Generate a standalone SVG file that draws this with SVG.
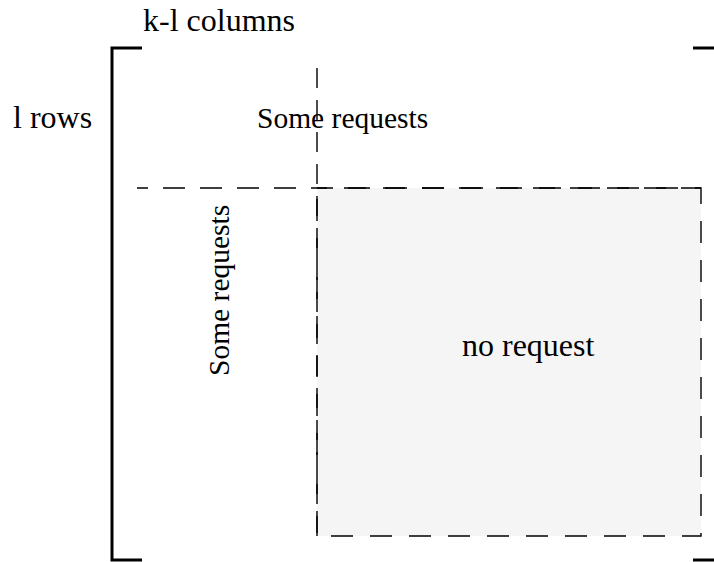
<svg xmlns="http://www.w3.org/2000/svg" width="714" height="562" viewBox="0 0 714 562">
  <style>
    .lbl { font-family: "Liberation Serif", "Times New Roman", Tinos, "DejaVu Serif", serif; font-size: 32px; fill: #000; }
    .lbl.small { font-size: 29.5px; }
    .bracket { fill: none; stroke: #000; stroke-width: 3; }
    .dash { fill: none; stroke: #000; stroke-width: 1.4; }
  </style>
  <rect width="714" height="562" fill="#fff"/>

  <!-- matrix brackets -->
  <g id="brackets">
    <path class="bracket" d="M142,48 H112 V560 H142"/>
    <path class="bracket" d="M693,48 H714"/>
    <path class="bracket" d="M693,560 H714"/>
  </g>

  <!-- empty block -->
  <g id="no-request-block">
    <rect x="317" y="188" width="384" height="348" fill="#f5f5f5" stroke="#000" stroke-width="1.4" stroke-dasharray="22 17" stroke-dashoffset="12"/>
    <text class="lbl" x="462" y="356" font-family="Liberation Serif, serif">no request</text>
  </g>

  <!-- partition lines -->
  <g id="connectors">
    <path class="dash" d="M137,188 H701" stroke-dasharray="22 15" stroke-dashoffset="11"/>
    <path class="dash" d="M317,68 V536" stroke-dasharray="20 12"/>
  </g>

  <g id="labels" font-family="Liberation Serif, serif">
    <text class="lbl" x="143" y="31">k-l columns</text>
    <text class="lbl" x="13" y="128">l rows</text>
    <text class="lbl small" x="257" y="128">Some requests</text>
    <text class="lbl small" transform="translate(229,376) rotate(-90)">Some requests</text>
  </g>
</svg>
